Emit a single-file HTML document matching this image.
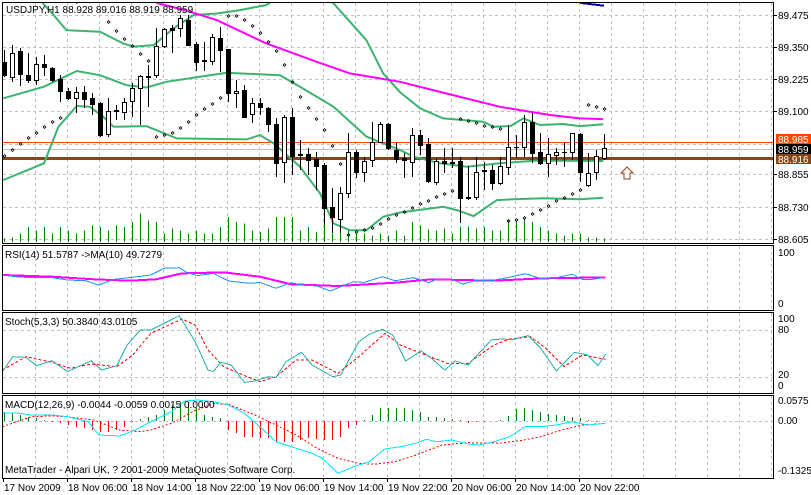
<!DOCTYPE html>
<html><head><meta charset="utf-8"><style>
html,body{margin:0;padding:0;background:#fff;}
svg{display:block;font-family:"Liberation Sans",sans-serif;font-size:10px;}
</style></head><body>
<svg id="chart" width="811" height="495" viewBox="0 0 811 495" xmlns="http://www.w3.org/2000/svg" shape-rendering="crispEdges"></svg>
<script>
// ---- data ----
const opens=[89.293,89.235,89.335,89.241,89.222,89.283,89.267,89.228,89.180,89.153,89.174,89.153,89.131,89.011,89.105,89.096,89.140,89.193,89.237,89.241,89.355,89.423,89.423,89.455,89.364,89.300,89.297,89.384,89.341,89.173,89.183,89.088,89.131,89.114,89.050,88.902,89.077,88.933,88.933,88.913,88.891,88.729,88.680,88.781,88.943,88.863,88.911,88.982,89.051,88.950,88.917,88.904,89.008,88.973,88.824,88.907,88.903,88.907,88.762,88.768,88.872,88.872,88.823,88.885,88.961,88.960,89.057,88.943,88.898,88.930,88.943,88.943,89.012,88.814,88.863,88.920];
const highs=[89.339,89.358,89.345,89.326,89.313,89.319,89.274,89.241,89.190,89.196,89.199,89.170,89.138,89.153,89.125,89.151,89.209,89.241,89.280,89.423,89.423,89.436,89.475,89.475,89.371,89.371,89.403,89.429,89.341,89.222,89.202,89.151,89.151,89.118,89.073,89.086,89.112,88.989,88.956,88.943,88.898,88.801,88.807,89.015,88.950,88.924,89.060,89.060,89.053,88.976,88.937,89.034,89.027,88.995,88.917,88.956,88.956,88.924,88.887,88.924,88.904,88.891,88.924,89.047,89.008,89.086,89.092,89.015,88.995,88.956,88.976,89.015,89.015,88.937,88.950,89.012];
const lows=[89.235,89.215,89.199,89.209,89.202,89.237,89.215,89.135,89.144,89.092,89.112,89.086,89.002,89.002,89.066,89.066,89.079,89.047,89.118,89.229,89.345,89.328,89.390,89.358,89.258,89.258,89.280,89.254,89.138,89.112,89.079,89.053,89.086,89.021,88.843,88.820,88.852,88.872,88.852,88.794,88.658,88.626,88.626,88.762,88.840,88.826,88.885,88.976,88.950,88.900,88.840,88.846,88.930,88.820,88.814,88.860,88.878,88.667,88.755,88.755,88.794,88.794,88.814,88.852,88.917,88.924,88.898,88.891,88.846,88.891,88.885,88.911,88.826,88.805,88.833,88.911];
const closes=[89.241,89.328,89.245,89.222,89.283,89.271,89.222,89.180,89.151,89.174,89.148,89.127,89.008,89.101,89.101,89.138,89.193,89.237,89.235,89.355,89.419,89.416,89.462,89.358,89.293,89.296,89.388,89.339,89.170,89.180,89.079,89.131,89.118,89.050,88.898,89.079,88.928,88.930,88.911,88.889,88.723,88.688,88.781,88.943,88.865,88.908,88.982,89.051,88.956,88.913,88.911,89.008,88.969,88.830,88.907,88.898,88.898,88.762,88.768,88.865,88.869,88.820,88.887,88.960,88.961,89.060,88.939,88.898,88.933,88.943,88.943,89.015,88.865,88.859,88.926,88.959];
const volumes=[10,13,25,45,35,45,25,45,35,25,35,50,45,35,50,45,60,85,65,60,25,40,35,25,35,25,25,45,75,60,55,35,30,40,75,75,75,35,45,30,65,25,55,35,25,25,20,25,20,35,20,60,50,37,35,40,25,47,47,40,45,35,35,65,65,70,60,45,35,25,20,25,25,13,13,10];
const sar=[88.926,88.950,88.973,88.998,89.017,89.039,89.059,89.073,null,89.527,null,null,null,89.449,89.414,89.380,89.354,89.323,89.297,88.999,89.008,89.015,89.034,89.057,89.086,89.109,89.129,89.151,89.472,89.471,89.455,89.432,89.406,89.371,89.336,89.280,89.215,89.157,89.112,89.069,89.027,88.965,88.894,88.619,88.632,88.638,88.645,88.664,88.680,88.697,88.709,88.723,88.740,88.750,88.766,88.779,88.789,89.070,89.061,89.053,89.043,89.038,89.030,88.675,88.677,88.684,88.701,88.716,88.733,88.750,88.762,88.779,88.794,89.123,89.116,89.109];
const bbUpperIdx=[0,4,6.2,7.8,12,14.9,16.2,18.7,21.2,23.7,26.6,29.5,32.8,33.7,37,41.2,45.3,47.4,49.5,52,54.9,59.9,61.2,63.3,64.9,67,69.9,72,74.9];
const bbUpper=[89.60,89.55,89.475,89.416,89.410,89.364,89.352,89.358,89.423,89.475,89.481,89.494,89.514,89.533,89.60,89.520,89.377,89.248,89.175,89.112,89.073,89.060,89.040,89.043,89.073,89.047,89.051,89.043,89.050];
const bbMidIdx=[-0.1,5,9.1,12,15.3,17.8,20.3,24.5,27.8,34.5,37,41.2,45.3,49.5,51.2,54.5,57.8,62,66.2,70.3,74.9];
const bbMid=[89.151,89.196,89.257,89.241,89.202,89.193,89.215,89.235,89.250,89.241,89.196,89.118,89.002,88.950,88.924,88.898,88.885,88.898,88.908,88.908,88.907];
const bbLowIdx=[-0.1,5,6.8,9.1,10.75,12.4,13.7,17.8,21.6,30.3,32,33.7,37,39.5,41.2,43.25,45.3,47.4,49.5,54.9,56.6,58.7,61.6,64.1,67.4,72,74.9];
const bbLow=[88.833,88.898,89.040,89.121,89.118,89.079,89.040,89.043,88.995,88.991,89.008,88.976,88.885,88.781,88.664,88.638,88.638,88.690,88.707,88.729,88.716,88.693,88.755,88.759,88.762,88.758,88.764];
const maIdx=[17,19.3,22.6,26.6,32.8,39.1,43.25,49.5,55.75,62,68.25,72,74.9];
const ma=[89.56,89.520,89.494,89.455,89.364,89.293,89.248,89.215,89.166,89.118,89.086,89.073,89.070];
const ma2Idx=[72,75];
const ma2=[89.522,89.511];
const rsiIdx=[-0.2,1.45,3.4,6,7.95,10.2,11.85,13.8,16.1,18.35,20,21.9,22.9,24.2,26.15,28.1,30.7,32,34,35.9,37.2,39.15,40.8,42.4,43.7,45,47.3,48.9,51.2,53.1,54.1,56,57.35,59.3,60.6,62.9,65.15,67.1,69.05,71,72.3,73.6,75.2];
const rsi=[53.8,50.6,48.7,48.7,44.2,42.9,34.6,45.5,49.4,53.8,66.7,67.9,58.3,52.6,57,42.3,37.8,39.7,28.2,39.1,34.6,32.7,23.1,33.3,41,39.7,50.6,42.9,48.7,39.1,45.5,45.5,36.5,44.2,42.3,48.7,56.4,47.4,48.7,55.1,45.5,45.5,49.4];
const rsiMaIdx=[-0.2,6,11.2,15.75,19,22.25,27.45,32,35.9,41.75,48.9,53.45,61.25,67.1,75.2];
const rsiMa=[53.8,50.6,45.5,42.9,45.5,57,59,50.6,35.9,32.7,39.1,45.5,42.9,47.4,49.4];
const stochIdx=[-0.2,1.1,2.75,4.05,6,7.95,10.9,12.2,14.1,15.4,17.05,18.35,21.9,23.9,25.5,26.15,27.1,28.4,30.05,31.35,33,34,35.25,37.2,38.5,41.1,42.1,44.35,45.65,47.3,48.6,50.2,52.15,53.45,55.1,56.4,58,60.9,62.2,63.5,65.5,67.1,69.05,71.3,72.95,74.25,75.2];
const stochK=[27.1,46.1,45.2,34.7,41.0,27.1,41.0,29.2,34.7,60.9,79.9,79.9,98.1,65.1,29.2,27.1,38.9,35.5,13.5,15.2,20.7,19.5,39.8,51.6,35.5,20.7,22.8,65.1,74.4,80.8,73.6,40.6,53.3,44.0,29.2,40.6,35.5,67.3,68.5,67.7,72.8,56.7,27.9,51.6,48.2,34.7,49.1];
const stochDIdx=[-0.2,2.75,6,8.3,10.9,14.1,16.1,18.35,22.25,23.9,25.5,27.45,30.4,32,34,36.55,38.5,41.75,44.35,47.6,49.55,52.15,55.4,58,61.25,63.2,65.8,67.75,70,72.3,75.2];
const stochD=[29.2,46.1,38.9,31.3,36.8,33.4,48.2,75.6,93.9,86.3,54.6,33.4,20.7,14.4,20.7,41.9,41.9,24.9,46.1,75.6,60.9,50.4,37.7,37.7,60.9,68.5,71.5,56.7,33.4,48.2,42.7];
const macdHist=[.0253,.0208,.0163,.0118,.0072,.0027,-.0018,-.0063,-.0109,-.0154,-.0199,-.0244,-.0290,-.0290,-.0244,-.0154,-.0018,.0054,.0118,.0163,.0299,.0434,.0525,.0525,.0344,.0163,.0118,.0072,-.0244,-.0335,-.0425,-.0425,-.0452,-.047,-.0561,-.0561,-.0561,-.0516,-.047,-.0498,-.0516,-.0516,-.0425,-.0199,-.0109,.0027,.0163,.0344,.0353,.0344,.0344,.0299,.0253,.0118,.0118,.0072,.0054,.0027,-.0063,-.0018,-.0018,0,.0027,.0145,.0317,.0344,.0299,.0253,.0181,.0163,.0145,.0118,.0072,.0027,-.0018,0];
const macdIdx=[-0.2,1.45,3.4,6,7.95,10.55,11.85,14.45,16.4,18.35,20.95,22.6,24.2,26.15,28.1,30.05,32,34,35.9,38.5,39.8,41.75,43.7,45.65,47.6,49.55,51.5,52.8,54.1,56,58,59.3,61.25,63.2,65.15,67.1,69.05,71,72.95,75.2];
const macdLine=[.0208,.0226,.0163,.0163,.0118,-.0018,-.038,-.0407,-.0244,-.0018,.0253,.0543,.057,.0525,.0434,.0208,-.0154,-.0561,-.0697,-.0878,-.1013,-.142,-.124,-.1104,-.076,-.0697,-.0606,-.0498,-.0561,-.0516,-.0624,-.0651,-.0561,-.0425,-.0154,-.0154,-.0109,-.0018,-.0109,-.0063];
const sigIdx=[-0.2,3.4,6,7.95,11.2,14.45,17.05,18.35,20.95,23.55,26.15,28.1,31.35,34,36.55,39.15,41.75,44.35,46.3,48.9,51.5,54.75,58,61.9,64.5,67.1,69.7,72.3,75.2];
const macdSig=[-.0154,.0118,.0136,.0118,.0027,-.0244,-.029,-.0244,-.0063,.0253,.0479,.0452,.0163,-.0109,-.038,-.0742,-.1013,-.1149,-.1176,-.1104,-.0923,-.0651,-.0588,-.0606,-.0534,-.0425,-.0244,-.0109,-.0063];
const priceTicks=[89.475,89.350,89.225,89.100,88.855,88.730,88.605];
const gridPrices=[89.475,89.350,89.225,89.100,88.975,88.855,88.730,88.605];
const dateLabels=["17 Nov 2009","18 Nov 06:00","18 Nov 14:00","18 Nov 22:00","19 Nov 06:00","19 Nov 14:00","19 Nov 22:00","20 Nov 06:00","20 Nov 14:00","20 Nov 22:00"];

// ---- scales ----
const NS="http://www.w3.org/2000/svg";
const svg=document.getElementById('chart');
const X=i=>4+8*i;
const yP=p=>15+(89.475-p)*257.1;
const yR=v=>303-v*0.52;
const yS=v=>393-v*0.788;
const yM=v=>421-v*368.4;
function mk(tag,attrs,parent){const e=document.createElementNS(NS,tag);for(const k in attrs)e.setAttribute(k,attrs[k]);(parent||svg).appendChild(e);return e;}
function txt(s,x,y,attrs,parent){const t=mk('text',Object.assign({x:x,y:y},attrs||{}),parent);t.textContent=s;return t;}
function poly(idx,vals,fy,attrs,parent){let pts=idx.map((i,k)=>X(i).toFixed(1)+','+fy(vals[k]).toFixed(1)).join(' ');return mk('polyline',Object.assign({points:pts,fill:'none'},attrs),parent);}

// defs clip
const defs=mk('defs',{});
const cp=mk('clipPath',{id:'mainclip'},defs);mk('rect',{x:3,y:3,width:770,height:240},cp);
const cp2=mk('clipPath',{id:'macdclip'},defs);mk('rect',{x:3,y:396,width:770,height:82},cp2);

// grid
const grid=mk('g',{stroke:'#c0c0c0','stroke-dasharray':'3,3','stroke-width':1});


for(let gx=35;gx<773;gx+=32){mk('line',{x1:gx+.5,y1:3,x2:gx+.5,y2:243},grid);mk('line',{x1:gx+.5,y1:246,x2:gx+.5,y2:310},grid);mk('line',{x1:gx+.5,y1:313,x2:gx+.5,y2:393},grid);mk('line',{x1:gx+.5,y1:396,x2:gx+.5,y2:478},grid);}
gridPrices.forEach(p=>mk('line',{x1:3,y1:Math.round(yP(p))+.5,x2:773,y2:Math.round(yP(p))+.5},grid));
[80,20].forEach(v=>mk('line',{x1:3,y1:Math.round(yS(v))+.5,x2:773,y2:Math.round(yS(v))+.5},grid));
mk('line',{x1:3,y1:Math.round(yM(0))+.5,x2:773,y2:Math.round(yM(0))+.5},grid);

// main panel
const main=mk('g',{'clip-path':'url(#mainclip)'});


// volumes
volumes.forEach((v,i)=>{const l=mk('line',{x1:X(i)+.5,x2:X(i)+.5,y1:242,y2:242-v/3,stroke:'#008000'},main);

});
// horizontal level lines
const l1=mk('line',{x1:3,x2:773,y1:142.5,y2:142.5,stroke:'#ff4500'},main);


const l2=mk('line',{x1:3,x2:773,y1:149.5,y2:149.5,stroke:'#c0c0c0'},main);


const l3=mk('line',{x1:3,x2:773,y1:yP(88.916),y2:yP(88.916),stroke:'#8b4513','stroke-width':3},main);


// bands
const bu=poly(bbUpperIdx,bbUpper,yP,{stroke:'#3cb371','stroke-width':2,'shape-rendering':'auto'},main);


const bm=poly(bbMidIdx,bbMid,yP,{stroke:'#3cb371','stroke-width':2,'shape-rendering':'auto'},main);


const bl=poly(bbLowIdx,bbLow,yP,{stroke:'#3cb371','stroke-width':2,'shape-rendering':'auto'},main);


const mal=poly(maIdx,ma,yP,{stroke:'#ff00ff','stroke-width':2,'shape-rendering':'auto'},main);


const ma2l=poly(ma2Idx,ma2,yP,{stroke:'#0000a0','stroke-width':2},main);


// candles
for(let i=0;i<opens.length;i++){
  const g=mk('g',{},main);
  
  
  const x=X(i);
  mk('line',{x1:x+.5,x2:x+.5,y1:Math.round(yP(highs[i])),y2:Math.round(yP(lows[i])),stroke:'#000'},g);
  const top=Math.round(yP(Math.max(opens[i],closes[i]))),bot=Math.round(yP(Math.min(opens[i],closes[i])));
  const up=closes[i]>=opens[i];
  if(bot-top<1){mk('line',{x1:x-2,x2:x+3,y1:top+.5,y2:top+.5,stroke:'#000'},g);}
  else mk('rect',{x:x-1.5,y:top+.5,width:4,height:bot-top,fill:up?'#fff':'#000',stroke:'#000'},g);
}
// SAR
sar.forEach((v,i)=>{if(v===null)return;const d=mk('rect',{x:X(i)-0.5,y:Math.round(yP(v))-1,width:2,height:2,fill:'none',stroke:'#000','stroke-width':0.8,transform:'rotate(45 '+(X(i)+.5)+' '+Math.round(yP(v))+')','shape-rendering':'auto'},main);

});
// arrow
const ar=mk('path',{d:'M627 167 L633 173 L630 173 L630 179 L624 179 L624 173 L621 173 Z',fill:'#fff',stroke:'#8b4513','shape-rendering':'auto'});



// RSI
const r1=poly(rsiMaIdx,rsiMa,yR,{stroke:'#ff00ff','stroke-width':2});


const r2=poly(rsiIdx,rsi,yR,{stroke:'#1e90ff','stroke-width':1});


// Stoch
const s2=poly(stochDIdx,stochD,yS,{stroke:'#ff0000','stroke-dasharray':'3,2'});


const s1=poly(stochIdx,stochK,yS,{stroke:'#20b2aa'});


// MACD
const mg=mk('g',{'clip-path':'url(#macdclip)'});


macdHist.forEach((v,i)=>{const l=mk('line',{x1:X(i)+.5,x2:X(i)+.5,y1:Math.round(yM(0)),y2:Math.round(yM(v)),stroke:v>=0?'#008000':'#ff0000'},mg);

});
const m2=poly(sigIdx,macdSig,yM,{stroke:'#ff0000','stroke-dasharray':'2,2'},mg);


const m1=poly(macdIdx,macdLine,yM,{stroke:'#00e5ff'},mg);



// frames
const fr=mk('g',{fill:'none',stroke:'#000'});


[[2,2,243],[2,245,310],[2,312,393],[2,395,478]].forEach(([x,y1,y2])=>mk('rect',{x:x+.5,y:y1+.5,width:771,height:y2-y1},fr));

// axis labels
const ax=mk('g',{fill:'#000'});


priceTicks.forEach(p=>{const y=Math.round(yP(p));mk('line',{x1:773,x2:777,y1:y+.5,y2:y+.5,stroke:'#000'},ax);txt(p.toFixed(3),778,y+4,{},ax);});
function box(y,bg,fg,s,name){const g=mk('g',{});


mk('rect',{x:776,y:y,width:35,height:10,fill:bg},g);txt(s,778,y+9,{fill:fg},g);}
box(134,'#ff4500','#fff','88.985','level-label-88985');
box(144,'#000','#fff','88.959','bid-label');
box(154,'#8b4513','#fff','88.916','level-label-88916');
const sub=mk('g',{fill:'#000'});


[['100',256],['0',307],['100',322],['80',333],['20',378],['0',389],['0.0575',404],['0.00',424],['-0.1325',474]].forEach(([s,y])=>txt(s,778,y,{},sub));

// titles
const tt=mk('g',{fill:'#000'});


txt('USDJPY,H1  88.928 89.016 88.919 88.959',6,13,{'xml:space':'preserve'},tt);
txt('RSI(14) 51.5787  ->MA(10) 49.7279',5,258,{'xml:space':'preserve'},tt);
txt('Stoch(5,3,3) 50.3840 43.0105',5,325,{},tt);
txt('MACD(12,26,9) -0.0044 -0.0059 0.0015 0.0000',5,408,{},tt);
txt('MetaTrader - Alpari UK, ? 2001-2009 MetaQuotes Software Corp.',5,473,{},tt);

// date axis
const da=mk('g',{fill:'#000'});


dateLabels.forEach((s,k)=>{const x=3+64*k;mk('line',{x1:x+.5,x2:x+.5,y1:478,y2:482,stroke:'#000'},da);txt(s,x+1,491,{},da);});
</script>
</body></html>
